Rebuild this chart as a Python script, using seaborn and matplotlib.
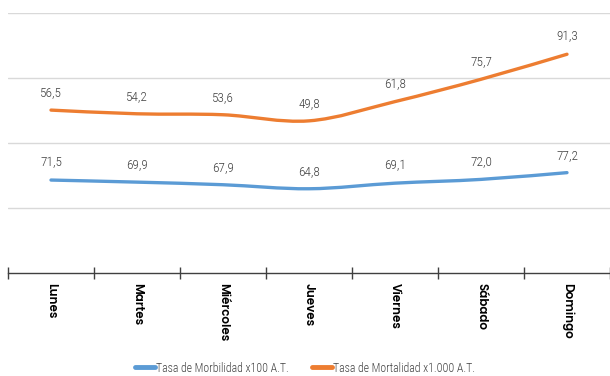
import numpy as np
import matplotlib
matplotlib.use('Agg')
import matplotlib.pyplot as plt
import seaborn as sns
from matplotlib.path import Path
from matplotlib.patches import PathPatch
from matplotlib.lines import Line2D

# data
dias = ['Lunes', 'Martes', 'Miércoles', 'Jueves', 'Viernes', 'Sábado', 'Domingo']
morbilidad = [71.5, 69.9, 67.9, 64.8, 69.1, 72.0, 77.2]
mortalidad = [56.5, 54.2, 53.6, 49.8, 61.8, 75.7, 91.3]
serie_morb = 'Tasa de Morbilidad x100 A.T.'
serie_mort = 'Tasa de Mortalidad x1.000 A.T.'

AZUL = '#5B9BD5'
NARANJA = '#ED7D31'
GRIS = '#404040'
NARROW = ['Roboto Condensed', 'DejaVu Sans']
GOTHIC = ['Poppins', 'DejaVu Sans']

sns.set_theme(style='white')
plt.rcParams['font.family'] = ['DejaVu Sans']


def suavizar(ax, line):
    # replace seaborn's straight segments by an Excel-like smoothed curve
    p = line.get_xydata()
    ext = np.vstack([p[0], p, p[-1]])
    verts = [p[0]]
    codes = [Path.MOVETO]
    for i in range(1, len(ext) - 2):
        c1 = ext[i] + (ext[i + 1] - ext[i - 1]) / 6
        c2 = ext[i + 1] - (ext[i + 2] - ext[i]) / 6
        verts += [c1, c2, ext[i + 1]]
        codes += [Path.CURVE4] * 3
    patch = PathPatch(Path(verts, codes), fill=False, edgecolor=line.get_color(),
                      lw=line.get_linewidth(), transform=line.get_transform(),
                      capstyle='round', joinstyle='round')
    ax.add_patch(patch)
    line.set_visible(False)


fig = plt.figure(figsize=(6.1, 3.76), dpi=100)
ax = fig.add_axes([8 / 610, 1 - 273 / 376, 602 / 610, 260 / 376])
ax2 = ax.twinx()

pos = np.arange(len(dias))

sns.lineplot(x=pos, y=morbilidad, ax=ax, color=AZUL, lw=2.4, legend=False)
suavizar(ax, ax.lines[-1])
sns.lineplot(x=pos, y=mortalidad, ax=ax2, color=NARANJA, lw=2.4, legend=False)
suavizar(ax2, ax2.lines[-1])

for a, vals in [(ax, morbilidad), (ax2, mortalidad)]:
    for i, v in zip(pos, vals):
        a.annotate(f'{v:.1f}'.replace('.', ','), (i, v), xytext=(0, 12.5),
                   textcoords='offset points', ha='center', va='center',
                   fontsize=9.5, color=GRIS, family=NARROW, fontweight='light')

ax.set_xlim(-0.5, len(dias) - 0.5)
ax.set_ylim(0, 200)
ax2.set_ylim(-45, 117)

ax.set_yticks([50, 100, 150, 200])
ax.set_yticklabels([])
ax.tick_params(axis='y', length=0)
ax.yaxis.grid(True, color='#d9d9d9', lw=1)
ax.xaxis.grid(False)

ax.set_xticks(pos)
ax.set_xticklabels(dias, rotation=-90, fontweight='semibold', fontsize=8.6,
                   color='black', family=GOTHIC)
ax.set_xticks(np.arange(-0.5, len(dias), 1), minor=True)
ax.tick_params(axis='x', which='major', length=0, pad=7)
ax.tick_params(axis='x', which='minor', length=8, direction='inout', width=1, color=GRIS, bottom=True)
for lbl in ax.get_xticklabels():
    lbl.set_va('top')

for s in ['top', 'right', 'left']:
    ax.spines[s].set_visible(False)
ax.spines['bottom'].set_color(GRIS)
ax.spines['bottom'].set_linewidth(1)

for s in ax2.spines.values():
    s.set_visible(False)
ax2.set_yticks([])
ax2.grid(False)

handles = [Line2D([], [], color=AZUL, lw=3.5), Line2D([], [], color=NARANJA, lw=3.5)]
leg = fig.legend(handles, [serie_morb, serie_mort], loc='center',
                 bbox_to_anchor=(0.5, 1 - 368 / 376), ncol=2, frameon=False,
                 handlelength=1.7, handletextpad=0.15, columnspacing=1.9,
                 borderpad=0, prop={'family': NARROW, 'size': 8.5, 'weight': 'light'})
for t in leg.get_texts():
    t.set_color(GRIS)

fig.savefig('out.png', dpi=100)
